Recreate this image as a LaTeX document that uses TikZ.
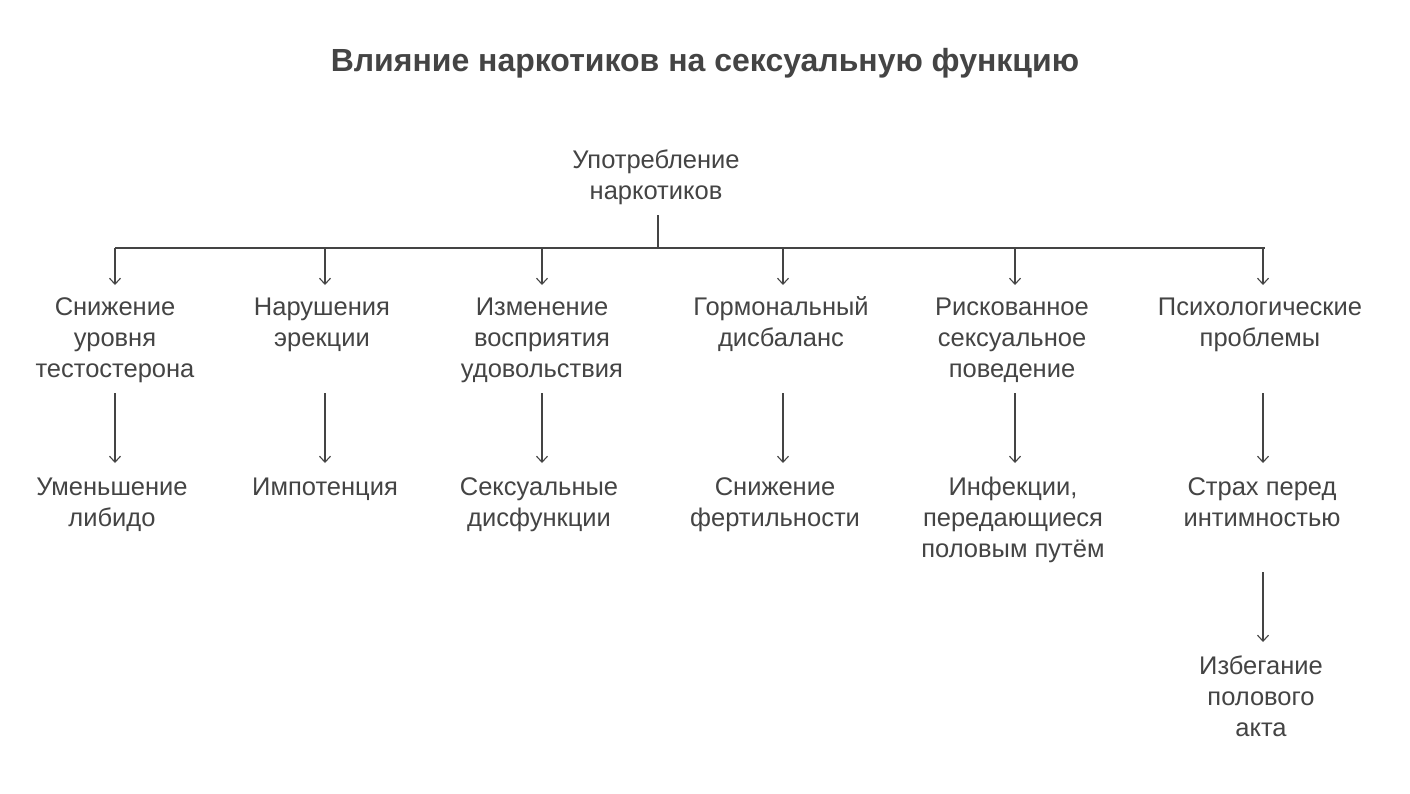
\documentclass[tikz,border=0pt]{standalone}
\usepackage{fontspec}
\setmainfont{Liberation Sans}
\usetikzlibrary{arrows.meta}
\definecolor{tx}{HTML}{444444}
\newcommand{\fs}{\rule{0pt}{20pt}}
\begin{document}
\begin{tikzpicture}[x=1pt,y=-1pt,
  lab/.style={align=center,anchor=north,inner sep=0pt,text=tx,font=\fontsize{25.5}{31}\selectfont},
  arr/.style={draw=tx,line width=1.1pt,-{Straight Barb[length=6pt,width=11pt]}},
  ln/.style={draw=tx,line width=1.1pt}]
\useasboundingbox[fill=white] (0,0) rectangle (1410,793);
\node[text=tx,inner sep=0pt,anchor=base,font=\fontsize{32}{38}\selectfont\bfseries] (t) at (705,71) {Влияние наркотиков на сексуальную функцию};
\node[lab] (r) at (656,148) {\fs Употребление\\наркотиков};
\coordinate (bus) at (658,248);
\draw[ln] (bus |- 0,215) -- (bus);
\draw[ln] (115,248) -- (1265,248);
\foreach \n/\x/\t in {a/115/{Снижение\\уровня\\тестостерона},b/322/{Нарушения\\эрекции},c/542/{Изменение\\восприятия\\удовольствия},d/781/{Гормональный\\дисбаланс},e/1012/{Рискованное\\сексуальное\\поведение},f/1260/{Психологические\\проблемы}}{
  \node[lab] (\n) at (\x,295) {\fs\t};
}
\foreach \n/\x in {a/115,b/325,c/542,d/783,e/1015,f/1263}{
  \draw[arr] (\x,248) -- (\x,285);
}
\node[lab] (a2) at (112,475) {\fs Уменьшение\\либидо};
\node[lab] (b2) at (325,475) {\fs Импотенция};
\node[lab] (c2) at (539,475) {\fs Сексуальные\\дисфункции};
\node[lab] (d2) at (775,475) {\fs Снижение\\фертильности};
\node[lab] (e2) at (1013,475) {\fs Инфекции,\\передающиеся\\половым путём};
\node[lab] (f2) at (1262,475) {\fs Страх перед\\интимностью};
\node[lab] (f3) at (1261,654) {\fs Избегание\\полового\\акта};
\foreach \a/\b/\x in {a/a2/115,b/b2/325,c/c2/542,d/d2/783,e/e2/1015,f/f2/1263}{
  \draw[arr] (\x,393) -- (\x,463);
}
\draw[arr] (1263,572) -- (1263,642);
\end{tikzpicture}
\end{document}
